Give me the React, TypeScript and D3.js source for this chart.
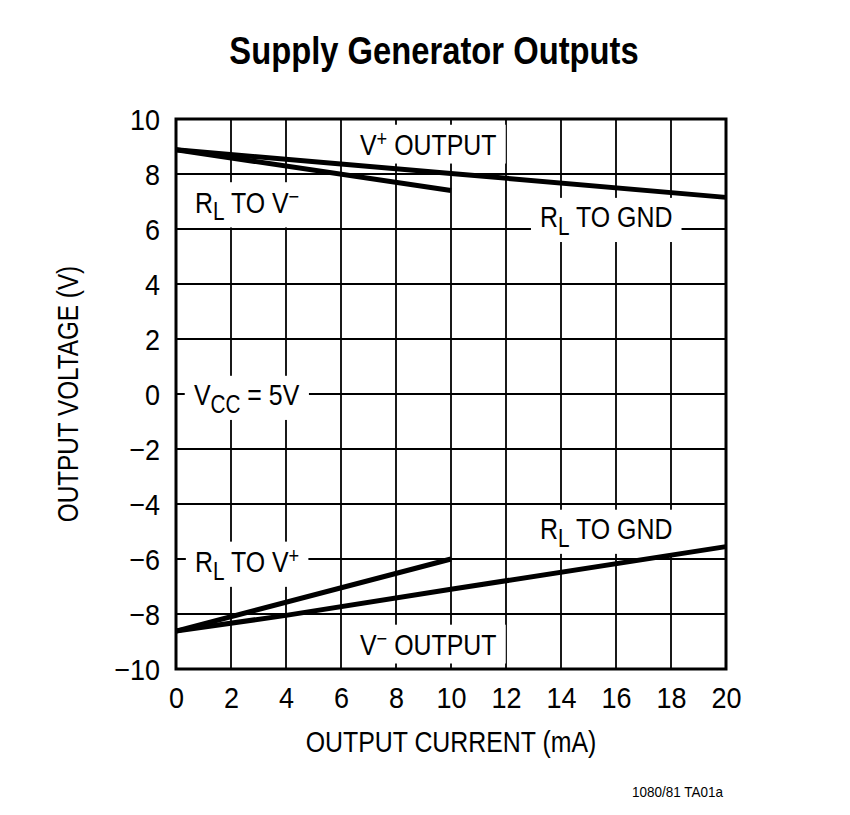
import React, { useEffect, useRef } from 'react';
import * as d3 from 'd3';

// ticks
const xTicks = [0, 2, 4, 6, 8, 10, 12, 14, 16, 18, 20];
const yTicks = [-10, -8, -6, -4, -2, 0, 2, 4, 6, 8, 10];

// V+ output, RL to GND
const vpGndI = [0, 10, 20];
const vpGndV = [8.88, 8.02, 7.15];
// V+ output, RL to V-
const vpVmI = [0, 10];
const vpVmV = [8.88, 7.4];
// V- output, RL to GND
const vmGndI = [0, 4, 10, 20];
const vmGndV = [-8.62, -8.05, -7.1, -5.55];
// V- output, RL to V+
const vmVpI = [0, 10];
const vmVpV = [-8.62, -6.0];

type Part = { t: string; s?: 'sub' | 'sup' };
// annotation labels, anchored in data coordinates (text start, baseline)
const labels: { x: number; y: number; parts: Part[] }[] = [
  { x: 6.69, y: 8.69, parts: [{ t: 'V' }, { t: '+', s: 'sup' }, { t: ' OUTPUT' }] },
  { x: 0.69, y: 6.6, parts: [{ t: 'R' }, { t: 'L', s: 'sub' }, { t: ' TO V' }, { t: '\u2212', s: 'sup' }] },
  { x: 13.24, y: 6.07, parts: [{ t: 'R' }, { t: 'L', s: 'sub' }, { t: ' TO GND' }] },
  { x: 0.65, y: -0.4, parts: [{ t: 'V' }, { t: 'CC', s: 'sub' }, { t: ' = 5V' }] },
  { x: 0.69, y: -6.47, parts: [{ t: 'R' }, { t: 'L', s: 'sub' }, { t: ' TO V' }, { t: '+', s: 'sup' }] },
  { x: 13.24, y: -5.27, parts: [{ t: 'R' }, { t: 'L', s: 'sub' }, { t: ' TO GND' }] },
  { x: 6.69, y: -9.49, parts: [{ t: 'V' }, { t: '\u2212', s: 'sup' }, { t: ' OUTPUT' }] },
];

const FONT = '"Liberation Sans", Arial, sans-serif';
const SX = 0.83; // horizontal squeeze to mimic a condensed face
const SX_NUM = 0.9;

const App: React.FC = () => {
  const ref = useRef<SVGSVGElement | null>(null);
  const width = 850;
  const height = 815;
  const margin = { top: 119, right: 124, bottom: 146, left: 176 };

  useEffect(() => {
    if (!ref.current) return;
    const svg = d3.select(ref.current);
    svg.selectAll('*').remove();

    const x = d3.scaleLinear().domain([0, 20]).range([margin.left, width - margin.right]);
    const y = d3.scaleLinear().domain([-10, 10]).range([height - margin.bottom, margin.top]);

    svg.append('rect').attr('width', width).attr('height', height).attr('fill', '#fff');

    const addText = (px: number, py: number, str: string, size: number, anchor: string, sx: number) =>
      svg.append('text')
        .attr('transform', `translate(${px},${py}) scale(${sx},1)`)
        .attr('text-anchor', anchor)
        .style('font-family', FONT).style('font-size', `${size}px`)
        .text(str);

    // title
    addText(434, 64, 'Supply Generator Outputs', 39, 'middle', 0.84).style('font-weight', 'bold');

    // grid
    const grid = svg.append('g').attr('stroke', '#000').attr('stroke-width', 1.8);
    grid.selectAll('line.v').data(xTicks).join('line')
      .attr('class', 'v')
      .attr('x1', d => x(d)).attr('x2', d => x(d))
      .attr('y1', y(-10)).attr('y2', y(10));
    grid.selectAll('line.h').data(yTicks).join('line')
      .attr('class', 'h')
      .attr('x1', x(0)).attr('x2', x(20))
      .attr('y1', d => y(d)).attr('y2', d => y(d));

    // annotation labels with white backing
    const lab = svg.append('g');
    labels.forEach(l => {
      const g = lab.append('g').attr('transform', `translate(${x(l.x)},${y(l.y)}) scale(${SX},1)`);
      const rect = g.append('rect').attr('fill', '#fff');
      const t = g.append('text')
        .style('font-family', FONT).style('font-size', '30px');
      l.parts.forEach(p => {
        const ts = t.append('tspan').text(p.t);
        if (p.s === 'sub') ts.attr('baseline-shift', '-30%').style('font-size', '25px');
        if (p.s === 'sup') ts.attr('baseline-shift', '40%').style('font-size', '22px');
      });
      const bb = (t.node() as SVGTextElement).getBBox();
      rect.attr('x', bb.x - 11).attr('y', bb.y - 2)
        .attr('width', bb.width + 22).attr('height', bb.height + 4);
    });

    // data lines
    const line = d3.line<[number, number]>().x(d => x(d[0])).y(d => y(d[1]));
    const series: [number[], number[]][] = [
      [vpGndI, vpGndV], [vpVmI, vpVmV], [vmGndI, vmGndV], [vmVpI, vmVpV],
    ];
    svg.append('g').selectAll('path').data(series).join('path')
      .attr('d', d => line(d[0].map((v, i) => [v, d[1][i]] as [number, number])))
      .attr('fill', 'none').attr('stroke', '#000').attr('stroke-width', 5)
      .attr('stroke-linecap', 'butt');

    // frame
    svg.append('rect')
      .attr('x', x(0)).attr('y', y(10))
      .attr('width', x(20) - x(0)).attr('height', y(-10) - y(10))
      .attr('fill', 'none').attr('stroke', '#000').attr('stroke-width', 3);

    // axes
    const xAxis = d3.axisBottom(x).tickValues(xTicks).tickSize(0).tickPadding(0).tickFormat(d3.format('d'));
    svg.append('g')
      .attr('transform', `translate(0,${y(-10)})`)
      .call(xAxis)
      .call(g => g.select('.domain').remove())
      .call(g => g.selectAll('text')
        .attr('dy', 0).attr('y', 39).attr('fill', '#000')
        .attr('transform', `scale(${SX_NUM},1)`)
        .style('font-family', FONT).style('font-size', '30px'));

    const yAxis = d3.axisLeft(y).tickValues(yTicks).tickSize(0).tickPadding(0)
      .tickFormat(d => d3.format('d')(d as number).replace('-', '\u2212'));
    svg.append('g')
      .attr('transform', `translate(${x(0)},0)`)
      .call(yAxis)
      .call(g => g.select('.domain').remove())
      .call(g => g.selectAll('text')
        .attr('x', -16 / SX_NUM).attr('dy', '0.36em').attr('fill', '#000')
        .attr('transform', `scale(${SX_NUM},1)`)
        .style('font-family', FONT).style('font-size', '30px'));

    // axis titles
    addText((x(0) + x(20)) / 2, 752, 'OUTPUT CURRENT (mA)', 30, 'middle', SX);
    svg.append('text')
      .attr('transform', `translate(78,${(y(-10) + y(10)) / 2}) rotate(-90) scale(0.81,1)`)
      .attr('text-anchor', 'middle')
      .style('font-family', FONT).style('font-size', '30px')
      .text('OUTPUT VOLTAGE (V)');

    addText(723, 797, '1080/81 TA01a', 15, 'end', 0.9);
  }, []);

  return (
    <svg ref={ref} width={width} height={height}
      style={{ position: 'absolute', left: 0, top: 0, display: 'block' }} />
  );
};

export default App;
